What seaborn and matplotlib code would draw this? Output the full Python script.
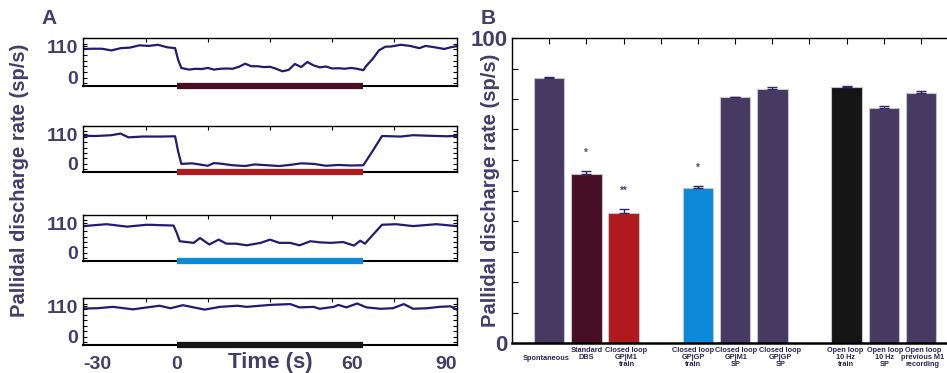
import numpy as np
import pandas as pd
import matplotlib
matplotlib.use("Agg")
import matplotlib.pyplot as plt
import matplotlib.transforms as mtransforms
import seaborn as sns
from matplotlib.ticker import FixedLocator, MultipleLocator

# ---- Panel A: example traces (time in s, rate in sp/s) ----
t_a1 = [-30, -27, -24, -21, -18, -15, -12, -9, -6, -3, -0.5, 0.5, 1.5,
        4, 6, 8, 10, 12, 14, 16, 18, 20, 22, 24, 26, 28, 30, 32, 34, 36, 38,
        40, 42, 44, 46, 48, 50, 52, 54, 56, 58, 60,
        61, 63, 65, 67, 69, 72, 75, 78, 80, 83, 86, 88, 90]
v_a1 = [101, 102, 102, 96, 104, 106, 114, 112, 116, 107, 104, 62, 34,
        28, 31, 30, 34, 28, 31, 32, 31, 38, 49, 40, 40, 37, 38, 31, 22, 27, 48,
        37, 55, 43, 36, 39, 32, 33, 31, 34, 31, 26,
        42, 66, 96, 109, 110, 116, 112, 104, 112, 107, 101, 107, 111]

t_a2 = [-30, -26, -21, -18, -15.5, -11, -5, -0.5, 0.5, 1.5,
        5, 10, 12, 14, 18, 22, 25, 29, 33, 37, 40, 44, 48, 52, 56, 60,
        63, 66, 72, 76, 81, 87, 90]
v_a2 = [104, 103, 106, 112, 98, 101, 101, 102, 45, 0,
        2, -7, 3, 1, -5, -8, -2, -5, -8, -3, 2, 0, -7, -4, -6, -5,
        48, 103, 101, 106, 104, 102, 104]

t_a3 = [-30, -22.5, -16, -9.5, -1, 0, 1,
        5.5, 7.5, 10.5, 13.5, 16, 19, 22.5, 27, 30, 33, 36.5, 39.5, 43, 46,
        49.5, 53.5, 57, 59, 60.5, 66, 70.5, 76, 83.5, 90]
v_a3 = [99, 106, 97, 104, 101, 75, 43,
        37, 55, 31, 49, 34, 34, 28, 37, 49, 37, 37, 28, 43, 39,
        37, 40, 27, 45, 34, 104, 106, 99, 106, 99]

t_a4 = [-30, -25.5, -20.5, -14, -9.5, -5.5, -2, 2, 5.5, 9, 14, 19.5, 22.5,
        30, 36.5, 39.5, 44, 46, 50.5, 52, 54.5, 58, 61, 65.5, 69.5, 73, 76,
        80.5, 84.5, 88, 90]
v_a4 = [102, 103, 108, 99, 106, 112, 103, 114, 106, 98, 108, 112, 108,
        115, 118, 106, 108, 101, 108, 115, 106, 120, 106, 101, 103, 118, 101,
        103, 108, 110, 98]

stim_start, stim_end = 0, 60
time_ticks = [-30, 0, 60, 90]
time_labels = ["-30", "0", "60", "90"]

# ---- Panel B: mean discharge rate per condition ----
conditions = ["Spontaneous", "Standard DBS", "Closed loop GP|M1 train",
              "Closed loop GP|GP train", "Closed loop GP|M1 SP",
              "Closed loop GP|GP SP", "Open loop 10 Hz train",
              "Open loop 10 Hz SP", "Open loop previous M1 recording"]
cond_labels = ["Spontaneous", "Standard\nDBS", "Closed loop\nGP|M1\ntrain",
               "Closed loop\nGP|GP\ntrain", "Closed loop\nGP|M1\nSP",
               "Closed loop\nGP|GP\nSP", "Open loop\n10 Hz\ntrain",
               "Open loop\n10 Hz\nSP", "Open loop\nprevious M1\nrecording"]
means = [86.8, 55.4, 42.6, 50.7, 80.5, 83.2, 83.8, 77.0, 81.9]
sems = [0.4, 1.0, 1.2, 0.7, 0.3, 0.7, 0.3, 0.7, 0.7]
stars = ["", "*", "**", "*", "", "", "", "", ""]
order = conditions[:3] + ["gap1"] + conditions[3:6] + ["gap2"] + conditions[6:]
# label placement tweaks (pixels): horizontal nudge, and first line skipped
label_nudge = [-3, 0, 3, -5, 1, 8, -1, 1, 2]
label_drop = [7.5, 0, 0, 0, 0, 0, 0, 0, 0]

PURPLE = "#463a63"
bar_colors = [PURPLE, "#470e24", "#b0191e", "#0b88d9", PURPLE, PURPLE,
              "#151515", PURPLE, PURPLE]
stim_colors = ["#470e24", "#b0191e", "#0b88d9", "#151515"]
TXT = "#443c6a"
TRACE = "#221c6e"

sns.set_theme(style="white")
plt.rcParams["font.family"] = ["Liberation Sans", "DejaVu Sans"]
plt.rcParams["font.weight"] = "bold"

W, H = 947, 373
fig = plt.figure(figsize=(W / 100, H / 100), dpi=100)


def px_axes(left, top, right, bottom):
    return fig.add_axes([left / W, 1 - bottom / H, (right - left) / W, (bottom - top) / H])


# ---------------- Panel A ----------------
rows = [(38, 86), (126, 172), (215, 261), (298, 345)]
traces = [(t_a1, v_a1), (t_a2, v_a2), (t_a3, v_a3), (t_a4, v_a4)]
for i, ((top, bot), (tt, vv)) in enumerate(zip(rows, traces)):
    ax = px_axes(83.3, top, 456.7, bot)
    sns.lineplot(x=tt, y=vv, ax=ax, color=TRACE, lw=1.6, sort=False)
    ax.plot([stim_start, stim_end], [0, 0], transform=ax.get_xaxis_transform(),
            color=stim_colors[i], lw=4.5, solid_capstyle="butt", clip_on=False, zorder=5)
    ax.set_xlim(-30, 90)
    ax.set_ylim(-30, 140)
    ax.set_yticks([0, 110])
    ax.set_yticklabels(["0", "110"], fontsize=14, fontweight="bold", color=TXT)
    ax.yaxis.set_minor_locator(MultipleLocator(20))
    ax.tick_params(axis="y", which="both", direction="in", left=True, right=True,
                   length=3, width=0.8, color="black", pad=4)
    for s in ax.spines.values():
        s.set_color("black")
        s.set_linewidth(1.0)
    ax.spines["bottom"].set_linewidth(1.5)
    ax.set_ylabel("")
    if i < 3:
        ax.set_xticks([])
    else:
        ax.set_xticks(time_ticks)
        labs = ax.set_xticklabels(time_labels, fontsize=14, fontweight="bold", color=TXT)
        for lab, ha in zip(labs, ["left", "center", "right", "right"]):
            lab.set_ha(ha)
        ax.tick_params(axis="x", which="major", pad=8)
        ax.set_xlabel("Time (s)", fontsize=16, fontweight="bold", color=TXT)
        ax.xaxis.label.set_va("center")
        ax.xaxis.set_label_coords(0.5, -0.37)
    ax.xaxis.set_minor_locator(FixedLocator([-10, 10, 30, 50, 70]))
    ax.tick_params(axis="x", which="minor", direction="in", top=True, bottom=False,
                   length=3, width=0.8, color="black")
    ax.tick_params(axis="x", which="major", bottom=False, top=False, length=0)

fig.text(20 / W, 1 - 180 / H, "Pallidal discharge rate (sp/s)", rotation=90,
         ha="center", va="center", fontsize=14.5, fontweight="bold", color=TXT)
fig.text(49 / W, 1 - 19 / H, "A", ha="center", va="center", fontsize=15,
         fontweight="bold", color=TXT)

# ---------------- Panel B ----------------
axb = px_axes(512, 38, 947, 343)
df = pd.DataFrame({"cond": conditions, "rate": means})
sns.barplot(data=df, x="cond", y="rate", hue="cond", order=order,
            palette=dict(zip(conditions, bar_colors)), saturation=1, dodge=False,
            legend=False, width=0.82, edgecolor="#c4c4c4", linewidth=0.8,
            errorbar=None, ax=axb)
xpos = [order.index(c) for c in conditions]
axb.errorbar(xpos, means, yerr=[np.zeros(len(sems)), sems], fmt="none",
             ecolor="#2f2760", elinewidth=1, capsize=3.5, capthick=1, zorder=4)
for x, m, s, st in zip(xpos, means, sems, stars):
    if st:
        axb.text(x, m + s + 6, st, ha="center", va="center", fontsize=7,
                 color="#4a4272", fontweight="bold")

# condition labels under the bars (drawn as texts so they can be nudged)
for x, lab, dx, dy in zip(xpos, cond_labels, label_nudge, label_drop):
    tr = axb.get_xaxis_transform() + mtransforms.ScaledTranslation(
        dx / 100, -(4 + dy) / 100, fig.dpi_scale_trans)
    axb.text(x, 0, lab, transform=tr, ha="center", va="top", fontsize=5.3,
             fontweight="bold", color="#2b2456", linespacing=1.0,
             multialignment="center", clip_on=False)

axb.set_xlim(-1, 10.7)
axb.set_ylim(0, 100)
axb.set_yticks(range(0, 101, 10))
axb.set_yticklabels(["0"] + [""] * 9 + ["100"], fontsize=16, fontweight="bold", color=TXT)
axb.set_xticks(range(len(order)))
axb.set_xticklabels([])
axb.tick_params(axis="x", bottom=False, top=True, direction="in", length=4,
                width=0.8, color="black", labelbottom=False)
axb.tick_params(axis="y", left=True, direction="in", length=4, width=0.8,
                color="black", pad=3)
axb.set_xlabel("")
axb.set_ylabel("")
for s in axb.spines.values():
    s.set_color("black")
    s.set_linewidth(1.0)
axb.spines["right"].set_visible(False)
axb.spines["bottom"].set_linewidth(1.8)

fig.text(490 / W, 1 - 190 / H, "Pallidal discharge rate (sp/s)", rotation=90,
         ha="center", va="center", fontsize=14.5, fontweight="bold", color=TXT)
fig.text(488 / W, 1 - 19 / H, "B", ha="center", va="center", fontsize=15,
         fontweight="bold", color=TXT)

fig.savefig("out.png", dpi=100)
